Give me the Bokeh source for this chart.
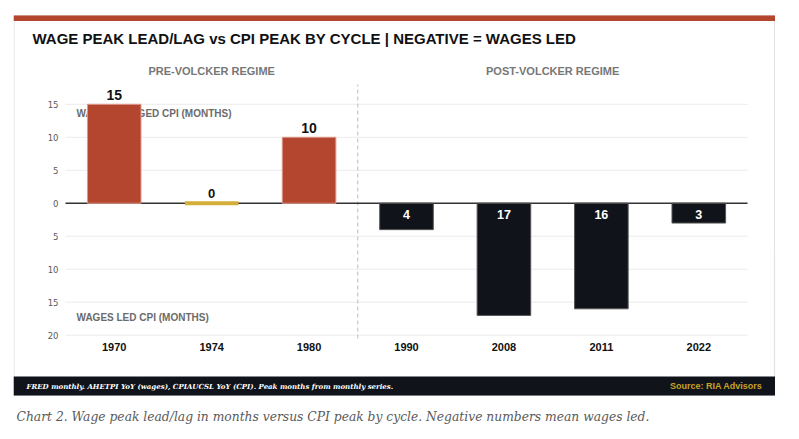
from bokeh.plotting import figure
from bokeh.models import ColumnDataSource, FactorRange, Range1d
from bokeh.core.properties import value
from bokeh.embed import file_html
from bokeh.resources import INLINE

# Wage peak lead (-) / lag (+) versus CPI peak, months, by inflation cycle
cycles = ["1970", "1974", "1980", "1990", "2008", "2011", "2022"]
lead_lag = [15, 0, 10, -4, -17, -16, -3]
y_ticks = [-20, -15, -10, -5, 0, 5, 10, 15]

regime_names = ["PRE-VOLCKER REGIME", "POST-VOLCKER REGIME"]
regime_cycles = [["1970", "1974", "1980"], ["1990", "2008", "2011", "2022"]]

title_text = "WAGE PEAK LEAD/LAG vs CPI PEAK BY CYCLE | NEGATIVE = WAGES LED"
lag_note = "WAGES LAGGED CPI (MONTHS)"
lead_note = "WAGES LED CPI (MONTHS)"
footer_note = "FRED monthly. AHETPI YoY (wages), CPIAUCSL YoY (CPI). Peak months from monthly series."
source_note = "Source: RIA Advisors"
caption = ("Chart 2. Wage peak lead/lag in months versus CPI peak by cycle. "
           "Negative numbers mean wages led.")

RED, GOLD, INK = "#B4452F", "#D3AE3A", "#10131A"
W, H = 799, 439
N = len(cycles)

# drawing frame on the page and the bar area inside it (pixels)
FL, FR, FT, FB = 13, W, 0, H
CL, CR, CT, CB = 65, 747, 84, 338
Y0, Y1 = -20.5, 18


def dx(px):
    """page x pixel -> categorical synthetic coordinate"""
    return (px - CL) / (CR - CL) * N


def dy(py):
    """page y pixel -> value axis coordinate"""
    return Y1 - (py - CT) / (CB - CT) * (Y1 - Y0)


def bar_color(v):
    return RED if v > 0 else (GOLD if v == 0 else INK)


def edge_color(v):
    return "#DE9A8B" if v > 0 else (GOLD if v == 0 else "#555555")


bars = ColumnDataSource(dict(
    cycle=cycles,
    val=lead_lag,
    fill=[bar_color(v) for v in lead_lag],
    edge=[edge_color(v) for v in lead_lag],
    edge_w=[4 if v == 0 else 1 for v in lead_lag],
))

up = [(c, v) for c, v in zip(cycles, lead_lag) if v >= 0]
down = [(c, v) for c, v in zip(cycles, lead_lag) if v < 0]
up_src = ColumnDataSource(dict(
    cycle=[c for c, _ in up], y=[v for _, v in up], label=[str(v) for _, v in up],
    size=["14px" if v > 0 else "13px" for _, v in up],
    off=[-4 if v > 0 else -5 for _, v in up],
))
down_src = ColumnDataSource(dict(
    cycle=[c for c, _ in down], y=[0 for _ in down], label=[str(abs(v)) for _, v in down],
))

p = figure(width=W, height=H,
           x_range=FactorRange(factors=cycles,
                               range_padding=((CL - FL) + (FR - CR)) / (CR - CL)),
           y_range=Range1d(dy(FB), dy(FT)),
           x_axis_location=None, y_axis_location=None,
           min_border_left=FL, min_border_right=W - FR,
           min_border_top=FT, min_border_bottom=H - FB,
           output_backend="svg", toolbar_location=None)
p.title = None
p.xgrid.visible = False
p.ygrid.visible = False
p.outline_line_color = None
p.background_fill_color = "white"
p.border_fill_color = "white"

SANS = value("Liberation Sans")

# card: outline, accent band, footer strip
p.quad(left=dx(13.5), right=dx(774), top=dy(15), bottom=dy(395),
       fill_color=None, line_color="#e3e3e3", line_width=1.2)
p.quad(left=dx(13), right=dx(774.5), top=dy(15), bottom=dy(20.5),
       fill_color=RED, line_color=None)
p.quad(left=dx(13), right=dx(774.5), top=dy(376), bottom=dy(395),
       fill_color=INK, line_color=None)

# value gridlines across the bar area
p.segment(x0=0, x1=N, y0=[t for t in y_ticks if t != 0], y1=[t for t in y_ticks if t != 0],
          line_color="#ebebeb", line_width=1)
p.text(x=dx(58), y=y_ticks, text=[str(abs(t)) for t in y_ticks],
       text_font=value("DejaVu Sans"), text_font_size="8.5px", text_color="#5a5a5a",
       text_align="right", text_baseline="middle")

# regime divider and zero line
p.segment(x0=len(regime_cycles[0]), x1=len(regime_cycles[0]), y0=dy(CB), y1=dy(CT),
          line_color="#bbbbbb", line_width=1, line_dash="4 3")
p.segment(x0=0, x1=N, y0=0, y1=0, line_color="#333333", line_width=1.5)

# axis direction notes (under the bars)
p.text(x=dx(76), y=[dy(113), dy(317)], text=[lag_note, lead_note],
       text_font=SANS, text_font_style="bold", text_font_size="10px",
       text_color="#6b6b6b", text_baseline="middle")

p.vbar(x="cycle", top="val", bottom=0, width=0.55, source=bars,
       fill_color="fill", line_color="edge", line_width="edge_w")

p.text(x="cycle", y="y", text="label", source=up_src,
       text_font=SANS, text_font_style="bold",
       text_font_size="size", text_color="#111111",
       text_align="center", text_baseline="bottom", y_offset="off")
p.text(x="cycle", y="y", text="label", source=down_src,
       text_font=SANS, text_font_style="bold",
       text_font_size="12.5px", text_color="white",
       text_align="center", text_baseline="middle", y_offset=11)

# category labels
p.text(x=cycles, y=dy(346), text=cycles,
       text_font=SANS, text_font_style="bold", text_font_size="11px",
       text_color="#111111", text_align="center", text_baseline="middle")

# regime headers centred over their group of cycles
starts = [0, len(regime_cycles[0])]
p.text(x=[s + len(g) / 2 for s, g in zip(starts, regime_cycles)], y=dy(70),
       text=regime_names, text_font=SANS, text_font_style="bold",
       text_font_size="11px", text_color="#777777",
       text_align="center", text_baseline="middle")

p.text(x=dx(32), y=dy(38), text=[title_text],
       text_font=SANS, text_font_style="bold", text_font_size="15px",
       text_color="#111111", text_baseline="middle")
p.text(x=dx(26), y=dy(385.5), text=[footer_note],
       text_font=value("DejaVu Serif"), text_font_style="bold italic",
       text_font_size="7px", text_color="white", text_baseline="middle")
p.text(x=dx(762), y=dy(385.5), text=[source_note],
       text_font=SANS, text_font_style="bold", text_font_size="9px",
       text_color="#C9A227", text_align="right", text_baseline="middle")
p.text(x=dx(16), y=dy(416), text=[caption],
       text_font=value("DejaVu Serif"), text_font_style="italic",
       text_font_size="12.3px", text_color="#5a5a5a", text_baseline="middle")

open("out.html", "w").write(file_html(p, INLINE))
